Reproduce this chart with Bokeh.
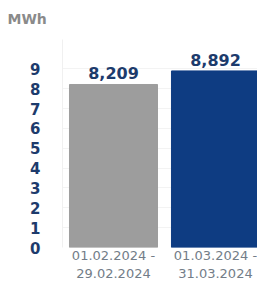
from bokeh.plotting import figure
from bokeh.models import ColumnDataSource, Range1d, FixedTicker, LabelSet
from bokeh.core.properties import value
from bokeh.embed import file_html
from bokeh.resources import INLINE

# data
periods = ["01.02.2024 -\n29.02.2024", "01.03.2024 -\n31.03.2024"]
values = [8.209, 8.892]
value_labels = ["8,209", "8,892"]
bar_colors = ["#9d9d9d", "#0e3c82"]
y_ticks = [0, 1, 2, 3, 4, 5, 6, 7, 8, 9]
unit = "MWh"

NAVY = "#1d3b6c"
FONT = "DejaVu Sans"

xpos = [i + 0.5 for i in range(len(periods))]
src = ColumnDataSource(dict(x=xpos, top=values, color=bar_colors, lbl=value_labels))

p = figure(width=257, height=283, output_backend="svg", toolbar_location=None,
           x_range=Range1d(0, 1.912), y_range=Range1d(0, 10.475),
           min_border_left=62, min_border_right=0, min_border_top=38,
           min_border_bottom=0)
p.outline_line_color = None
p.background_fill_color = "white"
p.border_fill_color = "white"

p.vbar(x="x", top="top", width=0.863, color="color", source=src)

p.add_layout(LabelSet(x="x", y="top", text="lbl", source=src, text_align="center",
                      text_baseline="bottom", y_offset=5, text_color=NAVY,
                      text_font=value(FONT), text_font_style="bold",
                      text_font_size="16px"))

# unit as title
p.title.text = unit
p.title.align = "left"
p.title.vertical_align = "top"
p.title.offset = -55
p.title.standoff = 21
p.title.text_color = "#8a8a8a"
p.title.text_font = FONT
p.title.text_font_style = "bold"
p.title.text_font_size = "14px"

# y axis
p.yaxis.ticker = FixedTicker(ticks=y_ticks)
p.yaxis.major_label_text_color = NAVY
p.yaxis.major_label_text_font = FONT
p.yaxis.major_label_text_font_style = "bold"
p.yaxis.major_label_text_font_size = "15px"
p.yaxis.major_label_standoff = 22
p.yaxis.major_tick_line_color = None
p.yaxis.major_tick_out = 0
p.yaxis.major_tick_in = 0
p.yaxis.minor_tick_line_color = None
p.yaxis.axis_line_color = "#f0f0f0"

# x axis
p.xaxis.ticker = FixedTicker(ticks=xpos)
p.xaxis.major_label_overrides = {x: lab for x, lab in zip(xpos, periods)}
p.xaxis.major_label_text_color = "#737d88"
p.xaxis.major_label_text_font = FONT
p.xaxis.major_label_text_font_size = "13px"
p.xaxis.major_label_standoff = 0
p.xaxis.major_tick_line_color = None
p.xaxis.major_tick_out = 0
p.xaxis.major_tick_in = 0
p.xaxis.minor_tick_line_color = None
p.xaxis.axis_line_color = None

p.xgrid.grid_line_color = None
p.ygrid.grid_line_color = "#f3f3f3"

open("out.html", "w").write(file_html(p, INLINE))
